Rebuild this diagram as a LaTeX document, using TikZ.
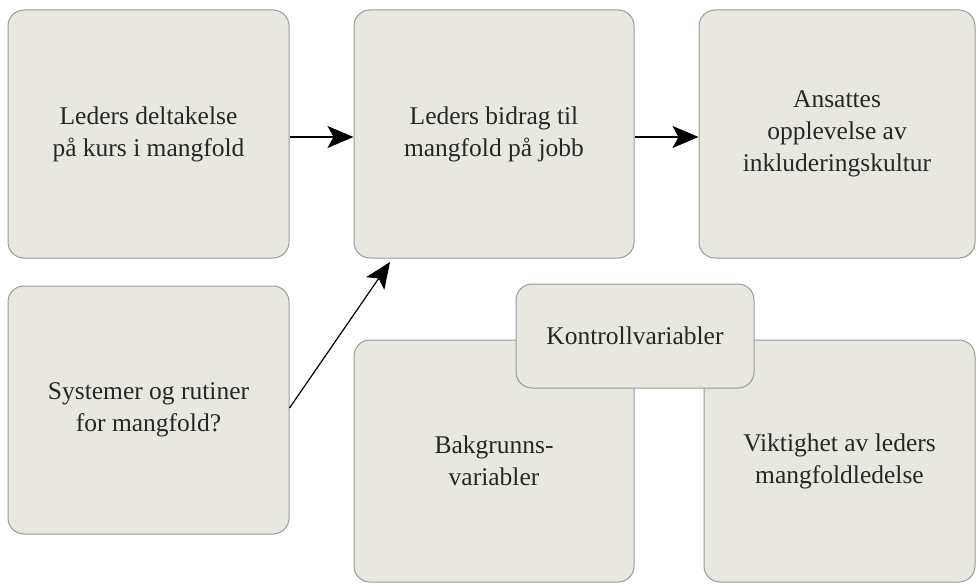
\documentclass[tikz,border=0pt]{standalone}
\usepackage{fontspec}
\setmainfont{Liberation Serif}
\usetikzlibrary{arrows.meta}
\definecolor{boxfill}{HTML}{E9E8E0}
\definecolor{boxline}{HTML}{9A9A98}
\definecolor{txt}{HTML}{262626}
\begin{document}
\begin{tikzpicture}[x=1pt,y=-1pt,
  box/.style={draw=boxline, line width=1pt, fill=boxfill, rounded corners=16pt,
    align=center, text=txt, inner sep=0pt, font=\fontsize{25.5}{32}\selectfont},
  conn/.style={line width=1.2pt, -{Stealth[length=26pt,width=22pt,inset=6pt]}}]
\useasboundingbox (0,0) rectangle (976,583);
\node[box, minimum width=281pt, minimum height=248pt] (b1) at (148.5,134) {Leders deltakelse\\på kurs i mangfold};
\node[box, minimum width=280pt, minimum height=248pt] (b2) at (494,134) {Leders bidrag til\\mangfold på jobb};
\node[box, minimum width=276pt, minimum height=248pt] (b3) at (837,134) {Ansattes\\opplevelse av\\inkluderingskultur};
\node[box, minimum width=281pt, minimum height=248pt] (b4) at (148.5,410) {Systemer og rutiner\\for mangfold?};
\node[box, minimum width=280pt, minimum height=242pt] (b5) at (494,461) {Bakgrunns-\\variabler};
\node[box, minimum width=271pt, minimum height=242pt] (b6) at (839.5,461) {Viktighet av leders\\mangfoldledelse};
\node[box, minimum width=238pt, minimum height=104pt] (k) at (635,336) {Kontrollvariabler};
\coordinate (t) at (390,262);
\draw[conn] ([yshift=-3pt]b1.east) -- ([yshift=-3pt]b2.west);
\draw[conn] ([yshift=-3pt]b2.east) -- ([yshift=-3pt]b3.west);
\draw[conn] ([yshift=2pt]b4.east) -- (t);
\end{tikzpicture}
\end{document}
